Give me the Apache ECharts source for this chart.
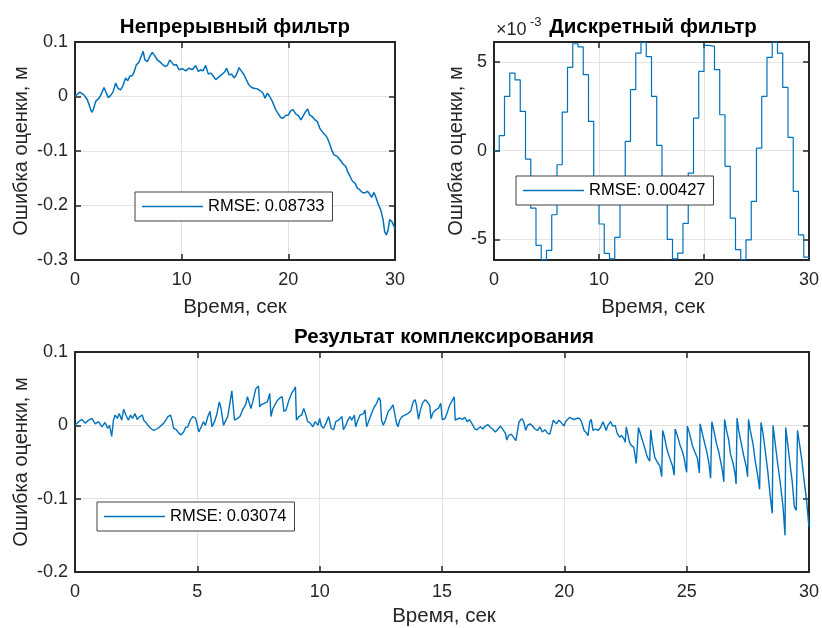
<!DOCTYPE html>
<html><head><meta charset="utf-8">
<script src="https://cdn.jsdelivr.net/npm/echarts@6/dist/echarts.min.js"></script>
<style>html,body{margin:0;padding:0;background:#fff}#c{width:822px;height:628px}</style>
</head><body><div id="c"></div>
<script>
// ---------- data ----------
const titles = ['Непрерывный фильтр', 'Дискретный фильтр', 'Результат комплексирования'];
const xName = 'Время, сек';
const yName = 'Ошибка оценки, м';
const legendNames = ['RMSE: 0.08733', 'RMSE: 0.00427', 'RMSE: 0.03074'];
const discTicks = [-5, 0, 5];        // units of 1e-3
const discLimits = [-6.16, 6.13];    // units of 1e-3

// continuous filter error [t, m]
const contSamples = [[0,0],[0.22,0.004],[0.44,0.008],[0.62,0.0104],[0.84,0.003],[1.0,0.002],[1.16,-0.006],[1.37,-0.018],[1.56,-0.029],[1.72,-0.024],[1.94,-0.009],[2.1,-0.006],[2.25,-0.003],[2.4,0.002],[2.56,0.009],[2.72,0.0165],[2.88,0.009],[3.12,-0.002],[3.34,0.002],[3.56,0.008],[3.81,0.0245],[4.03,0.015],[4.28,0.012],[4.5,0.02],[4.75,0.034],[4.94,0.029],[5.13,0.037],[5.38,0.0385],[5.56,0.046],[5.75,0.058],[6.0,0.063],[6.16,0.065],[6.38,0.083],[6.56,0.067],[6.78,0.064],[7.0,0.073],[7.25,0.081],[7.47,0.075],[7.72,0.067],[7.94,0.064],[8.19,0.059],[8.44,0.055],[8.66,0.057],[8.88,0.067],[9.06,0.063],[9.28,0.057],[9.5,0.059],[9.75,0.049],[10.06,0.051],[10.38,0.047],[10.69,0.052],[11.0,0.049],[11.31,0.057],[11.56,0.046],[11.78,0.049],[12.0,0.047],[12.25,0.057],[12.5,0.041],[12.72,0.043],[12.94,0.0385],[13.19,0.031],[13.44,0.035],[13.75,0.040],[14.06,0.046],[14.22,0.052],[14.44,0.040],[14.69,0.041],[14.91,0.034],[15.13,0.040],[15.38,0.053],[15.59,0.047],[15.84,0.040],[16.06,0.031],[16.31,0.021],[16.56,0.0165],[16.78,0.015],[17.09,0.014],[17.41,0.010],[17.63,0.006],[17.81,-0.003],[18.03,0.006],[18.25,0],[18.5,-0.009],[18.81,-0.024],[19.06,-0.032],[19.28,-0.0385],[19.5,-0.040],[19.75,-0.035],[20.0,-0.034],[20.22,-0.026],[20.44,-0.024],[20.69,-0.032],[20.94,-0.035],[21.19,-0.043],[21.41,-0.035],[21.63,-0.0275],[21.81,-0.023],[22.0,-0.034],[22.25,-0.037],[22.5,-0.043],[22.72,-0.046],[22.94,-0.058],[23.19,-0.065],[23.44,-0.070],[23.66,-0.076],[23.88,-0.087],[24.06,-0.098],[24.28,-0.107],[24.59,-0.110],[24.91,-0.118],[25.13,-0.124],[25.38,-0.128],[25.56,-0.138],[25.75,-0.145],[26.0,-0.155],[26.25,-0.159],[26.47,-0.168],[26.69,-0.171],[26.94,-0.176],[27.19,-0.177],[27.41,-0.174],[27.63,-0.179],[27.81,-0.185],[28.03,-0.176],[28.25,-0.187],[28.44,-0.198],[28.66,-0.208],[28.88,-0.226],[29.03,-0.248],[29.19,-0.254],[29.34,-0.246],[29.5,-0.226],[29.69,-0.229],[29.84,-0.235],[30.0,-0.243]];

// discrete filter error: sample times [s] and values [x1e-3 m]
const discTime = [0,0.5,1,1.5,2,2.5,3,3.5,4,4.5,5,5.5,6,6.5,7,7.5,8,8.5,9,9.5,10,10.5,11,11.5,12,12.5,13,13.5,14,14.5,15,15.5,16,16.5,17,17.5,18,18.5,19,19.5,20,20.5,21,21.5,22,22.5,23,23.5,24,24.5,25,25.5,26,26.5,27,27.5,28,28.5,29,29.5,30];
const discErr = [0,0.85,3.06,4.38,4.0,2.22,-0.47,-3.23,-5.34,-6.15,-5.62,-3.61,-0.79,2.18,4.7,6.03,5.85,4.29,1.65,-1.5,-4.13,-5.79,-6.1,-4.89,-2.4,0.53,3.44,5.5,6.13,5.3,3.06,0.3,-2.4,-5.0,-6.1,-5.77,-4.1,-1.26,1.84,4.47,5.94,5.88,4.57,2.03,-0.88,-3.8,-5.58,-6.15,-5.02,-2.86,0.15,3.06,5.26,6.13,5.5,3.57,0.75,-2.29,-4.74,-6.0,-6.0];

// fused result error [t, m]
const fusSamples = [[0,0],[0.15,0.005],[0.28,0.008],[0.42,0.003],[0.55,0.007],[0.69,0.0095],[0.83,0.002],[0.96,0.005],[1.1,-0.002],[1.23,0.004],[1.33,-0.004],[1.41,0],[1.5,-0.015],[1.57,0.007],[1.64,0.014],[1.73,0.0095],[1.81,0.016],[1.91,0.007],[1.99,0.022],[2.08,0.014],[2.18,0.007],[2.27,0.014],[2.35,0.0095],[2.45,0.016],[2.54,0.008],[2.65,0.012],[2.75,0.014],[2.81,0.007],[2.92,0.003],[3.03,-0.002],[3.13,-0.005],[3.22,-0.007],[3.33,-0.005],[3.44,-0.003],[3.53,0],[3.63,0.003],[3.71,0.005],[3.8,0.012],[3.9,0.014],[3.98,0.005],[4.03,-0.004],[4.14,-0.006],[4.25,-0.011],[4.34,-0.013],[4.44,-0.009],[4.52,-0.003],[4.61,-0.002],[4.71,0.007],[4.82,0.012],[4.93,0.0095],[5.0,0],[5.06,-0.009],[5.16,-0.002],[5.25,0.005],[5.33,0],[5.43,0.012],[5.52,0.019],[5.6,-0.002],[5.7,0.005],[5.79,0.014],[5.9,0.032],[5.97,0.023],[6.03,0.025],[6.07,0.0],[6.14,0.005],[6.24,0.012],[6.33,0.030],[6.41,0.047],[6.47,0.048],[6.52,0.007],[6.64,0.0095],[6.74,0.012],[6.85,0.021],[6.98,0.029],[7.05,0.039],[7.12,0.041],[7.19,0.023],[7.28,0.034],[7.39,0.050],[7.5,0.0535],[7.55,0.025],[7.6,0.028],[7.73,0.030],[7.86,0.032],[7.96,0.0435],[8.01,0.012],[8.09,0.023],[8.17,0.028],[8.27,0.034],[8.36,0.037],[8.47,0.039],[8.54,0.019],[8.63,0.021],[8.74,0.034],[8.85,0.0435],[8.94,0.048],[9.01,0.0525],[9.05,0.007],[9.15,0.012],[9.26,0.014],[9.35,0.023],[9.42,0.016],[9.51,0.005],[9.62,0.003],[9.72,-0.002],[9.82,0.005],[9.93,0],[10.0,0.0095],[10.07,-0.001],[10.16,-0.004],[10.26,0.003],[10.37,0.012],[10.43,0.014],[10.47,-0.004],[10.57,-0.006],[10.66,0.005],[10.77,0.007],[10.84,0.0095],[10.91,0.012],[10.97,-0.006],[11.07,0],[11.15,0.007],[11.24,0.012],[11.31,0.007],[11.42,0.014],[11.47,-0.002],[11.56,0.007],[11.65,0.014],[11.79,0.016],[11.85,0.021],[11.92,-0.002],[12.02,0.007],[12.12,0.016],[12.23,0.025],[12.33,0.030],[12.42,0.038],[12.48,0.034],[12.53,0.007],[12.6,0],[12.69,0.007],[12.8,0.019],[12.91,0.023],[13.0,0.028],[13.07,0.029],[13.14,0.003],[13.2,-0.002],[13.27,0.007],[13.37,0.012],[13.48,0.014],[13.61,0.016],[13.73,0.020],[13.82,0.032],[13.9,0.035],[13.96,0.027],[14.04,0.008],[14.11,0.020],[14.2,0.030],[14.31,0.035],[14.4,0.032],[14.5,0.027],[14.55,0.009],[14.63,0.017],[14.74,0.021],[14.85,0.023],[14.95,0.030],[15.01,0.008],[15.12,0.009],[15.22,0.018],[15.31,0.027],[15.42,0.034],[15.5,0.039],[15.54,0.007],[15.62,0.008],[15.72,0.010],[15.83,0.008],[15.93,0.011],[16.03,0.005],[16.12,0.008],[16.23,0.002],[16.34,-0.005],[16.43,-0.006],[16.57,-0.002],[16.67,-0.005],[16.77,-0.001],[16.88,0.001],[16.98,-0.003],[17.07,-0.005],[17.18,-0.009],[17.29,-0.005],[17.38,-0.001],[17.48,-0.005],[17.59,-0.011],[17.65,-0.020],[17.72,-0.014],[17.83,-0.012],[17.92,-0.016],[18.02,-0.021],[18.09,-0.007],[18.15,0.005],[18.26,0.009],[18.34,0.005],[18.42,-0.007],[18.5,0],[18.6,0.002],[18.7,-0.001],[18.8,-0.005],[18.91,-0.007],[19.0,-0.002],[19.1,-0.009],[19.21,-0.006],[19.32,-0.011],[19.41,-0.012],[19.48,-0.014],[19.55,0.007],[19.62,0.009],[19.68,0.002],[19.78,0.007],[19.89,0.003],[19.99,-0.001],[20.05,0.005],[20.13,0.008],[20.23,0.011],[20.32,0.009],[20.43,0.008],[20.54,0.010],[20.63,0.009],[20.7,0.005],[20.81,-0.007],[20.9,-0.010],[20.97,-0.014],[21.04,0.005],[21.1,0.008],[21.17,-0.007],[21.27,-0.005],[21.38,-0.007],[21.48,-0.003],[21.58,0.005],[21.65,0.006],[21.71,-0.007],[21.78,0],[21.89,0.005],[21.98,-0.001],[22.08,0],[22.16,-0.011],[22.26,-0.016],[22.35,-0.014],[22.43,-0.018],[22.49,-0.023],[22.53,-0.002],[22.59,-0.011],[22.66,-0.023],[22.73,-0.027],[22.84,-0.030],[22.94,-0.052],[23.0,-0.054],[23.03,-0.003],[23.15,-0.016],[23.28,-0.030],[23.35,-0.039],[23.42,-0.045],[23.49,-0.049],[23.53,-0.006],[23.6,-0.025],[23.7,-0.044],[23.8,-0.050],[23.9,-0.055],[23.98,-0.070],[24.02,-0.007],[24.08,-0.014],[24.19,-0.032],[24.29,-0.043],[24.35,-0.045],[24.42,-0.055],[24.49,-0.068],[24.53,-0.005],[24.62,-0.014],[24.73,-0.027],[24.83,-0.036],[24.9,-0.045],[24.96,-0.057],[25.0,-0.064],[25.03,-0.001],[25.14,-0.014],[25.23,-0.027],[25.33,-0.036],[25.44,-0.045],[25.52,-0.065],[25.55,0.002],[25.64,-0.011],[25.74,-0.025],[25.84,-0.039],[25.91,-0.052],[25.98,-0.072],[26.03,0.005],[26.11,-0.007],[26.22,-0.025],[26.31,-0.036],[26.38,-0.048],[26.45,-0.059],[26.52,-0.077],[26.55,0.008],[26.63,-0.007],[26.72,-0.020],[26.79,-0.039],[26.9,-0.052],[26.98,-0.067],[27.02,-0.080],[27.06,0.010],[27.13,-0.007],[27.22,-0.023],[27.33,-0.041],[27.44,-0.057],[27.49,-0.070],[27.53,0.008],[27.6,-0.007],[27.71,-0.025],[27.8,-0.048],[27.9,-0.068],[27.98,-0.087],[28.04,0.004],[28.12,-0.011],[28.21,-0.034],[28.31,-0.061],[28.42,-0.098],[28.5,-0.120],[28.53,0],[28.62,-0.025],[28.72,-0.052],[28.83,-0.080],[28.94,-0.111],[29.02,-0.150],[29.05,-0.003],[29.13,-0.025],[29.24,-0.057],[29.31,-0.075],[29.4,-0.111],[29.48,-0.116],[29.53,-0.007],[29.61,-0.025],[29.71,-0.048],[29.8,-0.075],[29.9,-0.102],[30.0,-0.139]];

// ---------- chart ----------
const FONT = "'Liberation Sans', Arial, Helvetica, sans-serif";
const AX = '#262626';
const LINE = '#0072BD';
const chart = echarts.init(document.getElementById('c'), null, {renderer: 'canvas'});

function xAx(grid, max, interval, bottom) {
  return {
    type: 'value', gridIndex: grid, min: 0, max: max, interval: interval,
    position: bottom ? 'bottom' : 'top',
    axisLine: {show: true, onZero: false, lineStyle: {color: AX, width: 2}},
    axisTick: {show: true, inside: true, length: 6, lineStyle: {color: AX, width: 1.5}},
    axisLabel: {show: bottom, margin: 11, color: AX, fontSize: 18, fontFamily: FONT},
    splitLine: {show: bottom, lineStyle: {color: '#e3e3e3', width: 1}}
  };
}
function yAx(grid, min, max, interval, left, custom) {
  const a = {
    type: 'value', gridIndex: grid, min: min, max: max,
    position: left ? 'left' : 'right',
    axisLine: {show: true, onZero: false, lineStyle: {color: AX, width: 2}},
    axisTick: {show: true, inside: true, length: 6, lineStyle: {color: AX, width: 1.5}},
    axisLabel: {show: left, margin: 7, color: AX, fontSize: 18, fontFamily: FONT},
    splitLine: {show: left, lineStyle: {color: '#e3e3e3', width: 1}}
  };
  if (custom) { a.axisTick.customValues = custom; a.axisLabel.customValues = custom; }
  else a.interval = interval;
  return a;
}
function legendAt(name, left, top) {
  return {
    data: [name], left: left, top: top, orient: 'horizontal',
    backgroundColor: '#fff', borderColor: '#404040', borderWidth: 1,
    padding: [6, 8, 6, 7], itemWidth: 61, itemHeight: 1.3, itemGap: 0,
    icon: 'rect',
    textStyle: {fontSize: 16.5, lineHeight: 16, color: '#000', fontFamily: FONT},
    selectedMode: false
  };
}
function txt(x, y, s, size, bold, rot) {
  return {type: 'text', x: x, y: y, rotation: rot || 0, z: 100,
    style: {text: s, fill: bold ? '#000' : AX, fontSize: size, fontFamily: FONT,
      fontWeight: bold ? 'bold' : 'normal', align: 'center', verticalAlign: 'middle'}};
}

const discData = discTime.map((t, i) => [t, discErr[i]]);

chart.setOption({
  animation: false,
  backgroundColor: '#fff',
  grid: [
    {left: 75, top: 42, width: 320, height: 218},
    {left: 494, top: 42, width: 319, height: 218},
    {left: 75, top: 352, width: 738, height: 220}
  ],
  xAxis: [
    xAx(0, 30, 10, true), xAx(0, 30, 10, false),
    xAx(1, 30, 10, true), xAx(1, 30, 10, false),
    xAx(2, 30, 5, true), xAx(2, 30, 5, false)
  ],
  yAxis: [
    yAx(0, -0.3, 0.1, 0.1, true), yAx(0, -0.3, 0.1, 0.1, false),
    yAx(1, discLimits[0], discLimits[1], null, true, discTicks), yAx(1, discLimits[0], discLimits[1], null, false, discTicks),
    yAx(2, -0.2, 0.1, 0.1, true), yAx(2, -0.2, 0.1, 0.1, false)
  ],
  legend: [legendAt(legendNames[0], 135, 192), legendAt(legendNames[1], 516, 176), legendAt(legendNames[2], 97, 502)],
  series: [
    {name: legendNames[0], type: 'line', xAxisIndex: 0, yAxisIndex: 0, data: contSamples,
      symbol: 'none', showSymbol: false, lineStyle: {color: LINE, width: 1.5}, itemStyle: {color: LINE}},
    {name: legendNames[1], type: 'line', xAxisIndex: 2, yAxisIndex: 2, data: discData, step: 'end',
      symbol: 'none', showSymbol: false, lineStyle: {color: LINE, width: 1.2}, itemStyle: {color: LINE}},
    {name: legendNames[2], type: 'line', xAxisIndex: 4, yAxisIndex: 4, data: fusSamples,
      symbol: 'none', showSymbol: false, lineStyle: {color: LINE, width: 1.4}, itemStyle: {color: LINE}}
  ],
  graphic: [
    txt(235, 27, titles[0], 20.5, true),
    txt(653, 27, titles[1], 20.5, true),
    txt(444, 337, titles[2], 20.5, true),
    txt(235, 307, xName, 20.5, false),
    txt(653, 307, xName, 20.5, false),
    txt(444, 616, xName, 20.5, false),
    txt(21, 151, yName, 20, false, Math.PI / 2),
    txt(456, 151, yName, 20, false, Math.PI / 2),
    txt(21, 462, yName, 20, false, Math.PI / 2),
    {type: 'text', x: 496, y: 30, z: 100, style: {text: '×10', fill: AX, fontSize: 18, fontFamily: FONT, align: 'left', verticalAlign: 'middle'}},
    {type: 'text', x: 530, y: 22, z: 100, style: {text: '-3', fill: AX, fontSize: 13, fontFamily: FONT, align: 'left', verticalAlign: 'middle'}}
  ]
});
</script></body></html>
